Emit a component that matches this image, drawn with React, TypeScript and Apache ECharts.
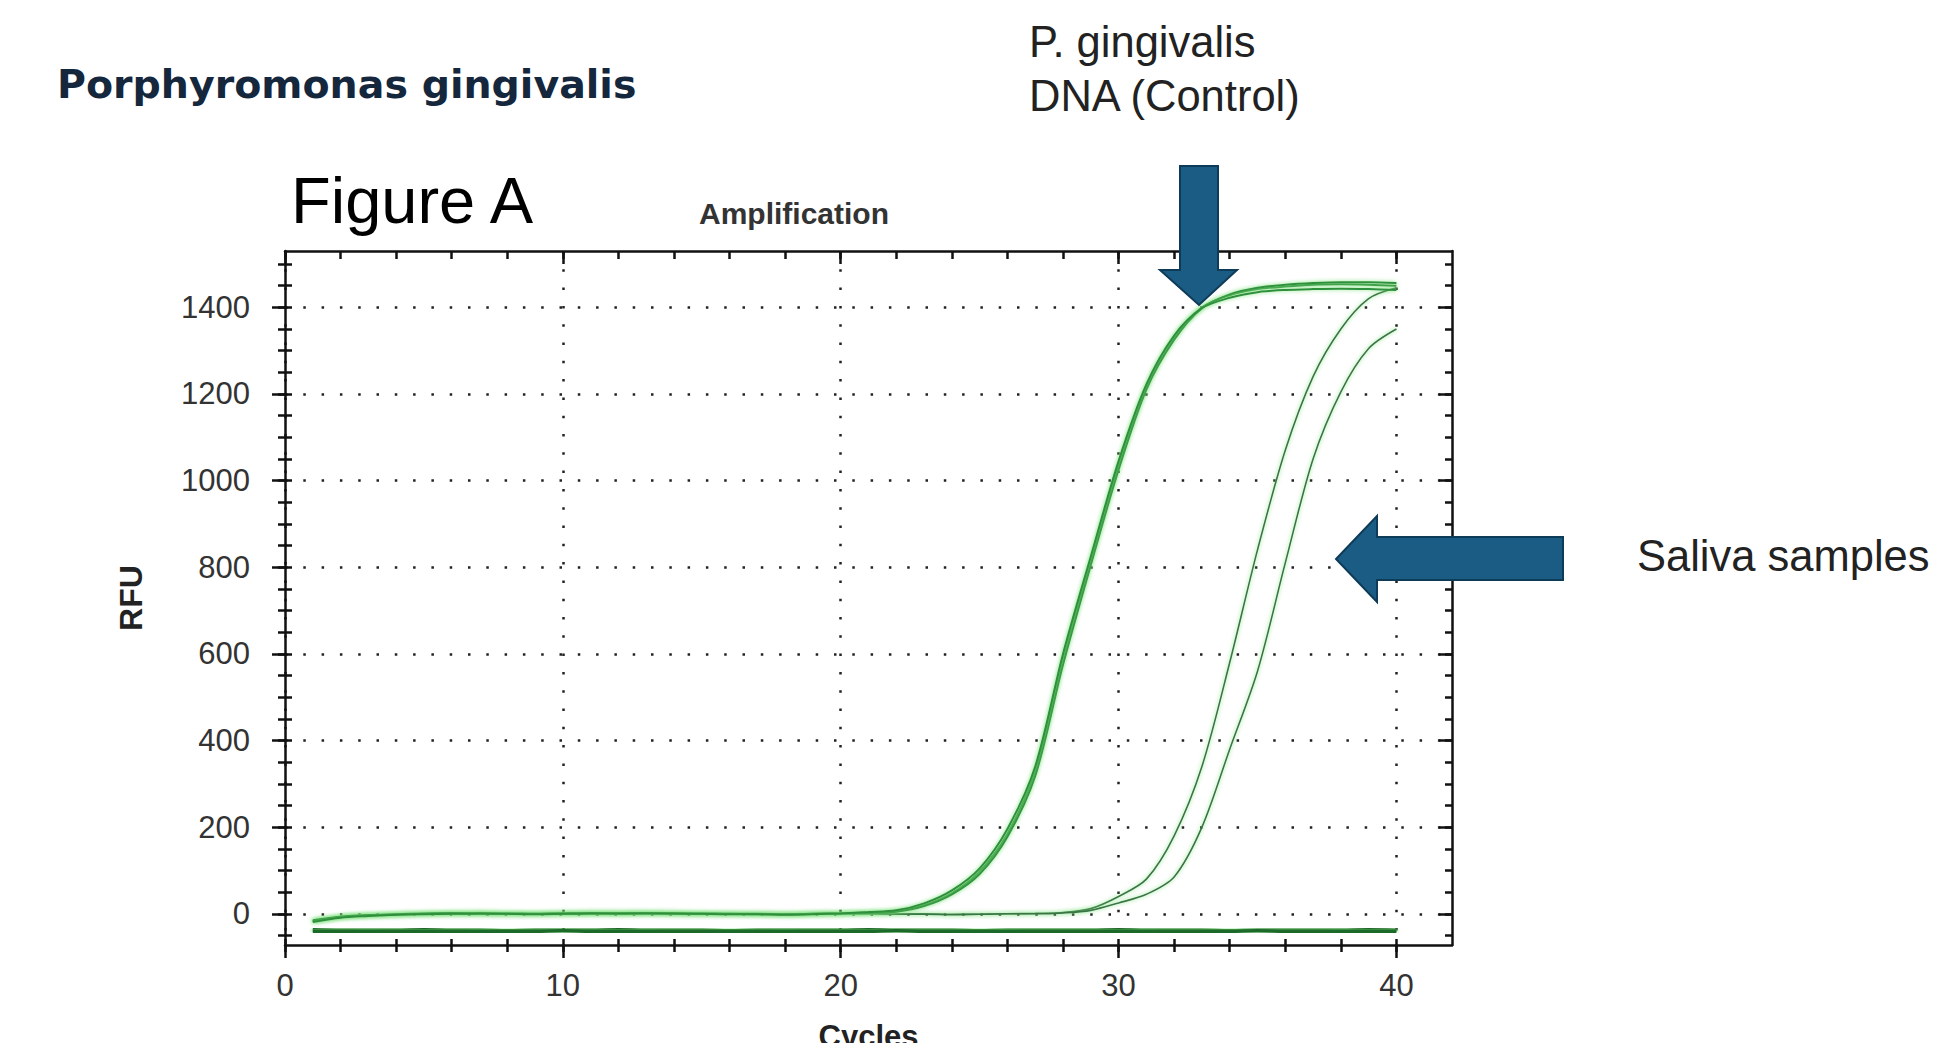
import { useEffect, useRef } from "react";
import * as echarts from "echarts";

// ---- data ----
const cycles = [
  1, 2, 3, 4, 5, 6, 7, 8, 9, 10, 11, 12, 13, 14, 15, 16, 17, 18, 19, 20,
  21, 22, 23, 24, 25, 26, 27, 28, 29, 30, 31, 32, 33, 34, 35, 36, 37, 38, 39, 40,
];

// P. gingivalis DNA (control) replicates
const control1 = [
  -17, -8, -4, -2, 0, 1, 1, 0, 0, 1, 1, 1, 2, 1, 0, 0, -1, -1, 0, 1, 3,
  6, 20, 48, 98, 185, 330, 590, 815, 1035, 1215, 1330, 1400, 1428, 1442, 1448, 1452, 1453, 1452, 1450,
];
const control2 = [
  -15, -7, -3, -1, 1, 2, 1, 1, 0, 1, 2, 1, 2, 1, 1, 0, 0, -1, 0, 1, 2,
  5, 18, 45, 92, 178, 318, 575, 805, 1025, 1210, 1325, 1398, 1430, 1445, 1452, 1456, 1458, 1458, 1456,
];
const control3 = [
  -19, -9, -5, -2, -1, 0, 1, 0, -1, 0, 1, 1, 1, 1, 0, -1, -1, -2, -1, 1, 4,
  8, 24, 54, 105, 196, 340, 600, 825, 1045, 1222, 1335, 1398, 1422, 1435, 1440, 1442, 1443, 1442, 1440,
];

// Saliva samples
const sampleA = [
  -16, -7, -3, -1, 0, 1, 1, 0, 0, 1, 1, 1, 1, 1, 0, 0, -1, -1, -1, 0, 0, 0, 0, -1, -1, 0, 1,
  3, 12, 40, 80, 180, 340, 580, 840, 1070, 1240, 1350, 1420, 1445,
];
const sampleB = [
  -17, -8, -4, -2, -1, 0, 1, 0, 0, 0, 1, 1, 1, 0, 0, -1, -1, -2, -1, 0, 0, -1, -1, -2, -1, 0, 0,
  2, 8, 25, 45, 85, 200, 380, 560, 810, 1050, 1205, 1305, 1350,
];

// Negative controls (flat)
const ntc1 = [
  -37, -38, -38, -38, -37, -38, -38, -39, -38, -38, -38, -37, -38, -38, -38, -39, -38, -38, -38, -38,
  -37, -38, -38, -38, -39, -38, -38, -38, -38, -37, -38, -38, -38, -39, -38, -38, -38, -38, -37, -38,
];
const ntc2 = [
  -40, -40, -41, -40, -40, -40, -41, -40, -40, -39, -40, -40, -41, -40, -40, -40, -40, -41, -40, -40,
  -40, -39, -40, -40, -40, -41, -40, -40, -40, -40, -41, -40, -40, -40, -39, -40, -40, -41, -40, -40,
];

// ticks
const yMajorTicks = [0, 200, 400, 600, 800, 1000, 1200, 1400];
const yMinorTicks = [
  -50, 0, 50, 100, 150, 200, 250, 300, 350, 400, 450, 500, 550, 600, 650, 700, 750,
  800, 850, 900, 950, 1000, 1050, 1100, 1150, 1200, 1250, 1300, 1350, 1400, 1450, 1500,
];
const xMajorTicks = [0, 10, 20, 30, 40];
const xMinorTicks = [0, 2, 4, 6, 8, 10, 12, 14, 16, 18, 20, 22, 24, 26, 28, 30, 32, 34, 36, 38, 40];

const Y_MIN = -72;
const Y_MAX = 1530;
const X_MIN = 0;
const X_MAX = 42;

const FONT = "'Liberation Sans', Arial, sans-serif";
const AX = { color: "#111", width: 2.5 };
const DOT = { type: [2.5, 15.8] as number[], color: "#222", width: 2.5 };

function toPairs(vals: number[]) {
  return cycles.map((c, i) => [c, vals[i]]);
}

export default function App() {
  const ref = useRef<HTMLDivElement>(null);

  useEffect(() => {
    if (!ref.current) return;
    const chart = echarts.init(ref.current, undefined, { renderer: "svg" });

    const yBase = { type: "value" as const, min: Y_MIN, max: Y_MAX };
    const xBase = { type: "value" as const, min: X_MIN, max: X_MAX };

    const halo = { shadowColor: "rgba(120,225,120,0.9)", shadowBlur: 4 };

    const mkLine = (name: string, vals: number[], color: string, width: number) => ({
      name,
      type: "line",
      data: toPairs(vals),
      xAxisIndex: 0,
      yAxisIndex: 0,
      showSymbol: false,
      symbol: "none",
      smooth: 0.3,
      lineStyle: { color, width, ...halo },
      emphasis: { disabled: true },
    });

    const plain = (v: number) => String(v);

    chart.setOption({
      animation: false,
      backgroundColor: "#ffffff",
      title: {
        text: "Amplification",
        left: 699,
        top: 198,
        padding: 0,
        textStyle: { fontSize: 30, fontWeight: "bold", color: "#333", fontFamily: FONT },
      },
      grid: { left: 285, right: 482, top: 251, bottom: 98, containLabel: false, outerBoundsMode: "none" },
      xAxis: [
        {
          ...xBase,
          position: "bottom",
          axisLine: { show: true, onZero: false, lineStyle: AX },
          axisTick: { show: true, customValues: xMinorTicks, length: 7, lineStyle: AX },
          axisLabel: {
            customValues: xMajorTicks,
            formatter: plain,
            fontSize: 31,
            color: "#333",
            margin: 25,
            fontFamily: FONT,
          },
          splitLine: { show: false },
          name: "Cycles",
          nameLocation: "middle",
          nameGap: 76,
          nameTextStyle: { fontSize: 31, fontWeight: "bold", color: "#222", fontFamily: FONT },
        },
        {
          ...xBase,
          position: "bottom",
          axisLine: { show: false, onZero: false },
          axisTick: { show: true, customValues: xMinorTicks, inside: true, length: 6, lineStyle: AX },
          axisLabel: { show: false },
          splitLine: { show: false },
        },
        {
          ...xBase,
          position: "bottom",
          axisLine: { show: false, onZero: false },
          axisTick: { show: true, customValues: xMajorTicks, length: 13, lineStyle: AX },
          axisLabel: { show: false },
          splitLine: { show: true, lineStyle: DOT },
        },
        {
          ...xBase,
          position: "top",
          axisLine: { show: true, onZero: false, lineStyle: AX },
          axisTick: { show: true, customValues: xMinorTicks, inside: true, length: 8, lineStyle: AX },
          axisLabel: { show: false },
          splitLine: { show: false },
        },
        {
          ...xBase,
          position: "top",
          axisLine: { show: false, onZero: false },
          axisTick: { show: true, customValues: xMajorTicks, inside: true, length: 13, lineStyle: AX },
          axisLabel: { show: false },
          splitLine: { show: false },
        },
      ],
      yAxis: [
        {
          ...yBase,
          position: "left",
          axisLine: { show: true, onZero: false, lineStyle: AX },
          axisTick: { show: true, customValues: yMinorTicks, length: 7, lineStyle: AX },
          axisLabel: {
            customValues: yMajorTicks,
            formatter: plain,
            fontSize: 31,
            color: "#333",
            margin: 35,
            fontFamily: FONT,
          },
          splitLine: { show: false },
          name: "RFU",
          nameLocation: "middle",
          nameGap: 138,
          nameTextStyle: { fontSize: 32, fontWeight: "bold", color: "#222", fontFamily: FONT },
        },
        {
          ...yBase,
          position: "left",
          axisLine: { show: false, onZero: false },
          axisTick: { show: true, customValues: yMinorTicks, inside: true, length: 7, lineStyle: AX },
          axisLabel: { show: false },
          splitLine: { show: false },
        },
        {
          ...yBase,
          position: "left",
          axisLine: { show: false, onZero: false },
          axisTick: { show: true, customValues: yMajorTicks, length: 13, lineStyle: AX },
          axisLabel: { show: false },
          splitLine: { show: true, lineStyle: DOT },
        },
        {
          ...yBase,
          position: "right",
          axisLine: { show: true, onZero: false, lineStyle: AX },
          axisTick: { show: true, customValues: yMinorTicks, inside: true, length: 7, lineStyle: AX },
          axisLabel: { show: false },
          splitLine: { show: false },
        },
        {
          ...yBase,
          position: "right",
          axisLine: { show: false, onZero: false },
          axisTick: { show: true, customValues: yMajorTicks, inside: true, length: 13, lineStyle: AX },
          axisLabel: { show: false },
          splitLine: { show: false },
        },
      ],
      series: [
        mkLine("NTC 1", ntc1, "#1d6a2a", 3.5),
        mkLine("NTC 2", ntc2, "#1d6a2a", 3.5),
        mkLine("Saliva sample 1", sampleA, "#3a7446", 1.6),
        mkLine("Saliva sample 2", sampleB, "#3a7446", 1.6),
        mkLine("Control 1", control1, "#2f8f3c", 2),
        mkLine("Control 2", control2, "#2f8f3c", 2),
        mkLine("Control 3", control3, "#2f8f3c", 2),
      ],
      graphic: [
        {
          type: "text",
          x: 57,
          y: 84,
          style: {
            text: "Porphyromonas gingivalis",
            fontFamily: "'DejaVu Sans', sans-serif",
            fontWeight: "bold",
            fontSize: 39.5,
            fill: "#15273c",
            verticalAlign: "middle",
          },
        },
        {
          type: "text",
          x: 291,
          y: 200,
          style: { text: "Figure A", fontFamily: FONT, fontSize: 65, fill: "#000", verticalAlign: "middle" },
        },
        {
          type: "text",
          x: 1029,
          y: 42,
          style: { text: "P. gingivalis", fontFamily: FONT, fontSize: 43.5, fill: "#222", verticalAlign: "middle" },
        },
        {
          type: "text",
          x: 1029,
          y: 96,
          style: { text: "DNA (Control)", fontFamily: FONT, fontSize: 43.5, fill: "#222", verticalAlign: "middle" },
        },
        {
          type: "text",
          x: 1637,
          y: 556,
          style: { text: "Saliva samples", fontFamily: FONT, fontSize: 43.5, fill: "#222", verticalAlign: "middle" },
        },
        {
          type: "polygon",
          z: 100,
          shape: {
            points: [
              [1180, 166], [1218, 166], [1218, 270], [1237, 270], [1199, 305], [1160, 270], [1180, 270],
            ],
          },
          style: { fill: "#1b5c84", stroke: "#0e3b57", lineWidth: 2 },
        },
        {
          type: "polygon",
          z: 100,
          shape: {
            points: [
              [1563, 537], [1563, 580], [1377, 580], [1377, 602], [1336, 559], [1377, 516], [1377, 537],
            ],
          },
          style: { fill: "#1b5c84", stroke: "#0e3b57", lineWidth: 2 },
        },
      ],
    });

    return () => chart.dispose();
  }, []);

  return (
    <div
      ref={ref}
      style={{ position: "absolute", left: 0, top: 0, width: 1934, height: 1043, background: "#fff" }}
    />
  );
}
